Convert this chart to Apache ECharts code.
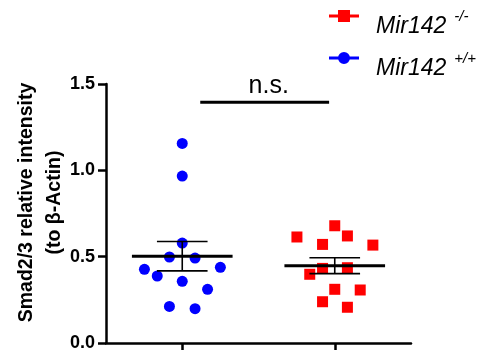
<!DOCTYPE html>
<html>
<head>
<meta charset="utf-8">
<script src="https://cdn.jsdelivr.net/npm/echarts@6/dist/echarts.min.js"></script>
<style>
  html, body { margin: 0; padding: 0; background: #fff; }
  #chart { width: 498px; height: 353px; }
</style>
</head>
<body>
<div id="chart"></div>
<script>
// values
const groupNames = ['Mir142 +/+', 'Mir142 -/-'];
const groupPos = [1, 2];
const wtValues = [1.156, 0.967, 0.579, 0.498, 0.492, 0.438, 0.427, 0.388, 0.357, 0.311, 0.212, 0.199];
const wtJitter = [0, 0, 0, -0.084, 0.084, 0.25, -0.248, -0.164, 0, 0.166, -0.084, 0.084];
const koValues = [0.679, 0.614, 0.620, 0.571, 0.567, 0.432, 0.436, 0.398, 0.311, 0.307, 0.239, 0.207];
const koJitter = [0, -0.248, 0.083, -0.08, 0.25, -0.08, 0.083, -0.164, 0, 0.167, -0.08, 0.083];
const groupMeans = [0.503, 0.448];
const groupSems = [0.085, 0.046];
const yTicks = [0, 0.5, 1.0, 1.5];
const nsBracket = [1.118, 1.963, 1.394];   // x from, x to, y

const FONT = '"Liberation Sans", Arial, Helvetica, sans-serif';

function points(pos, jitter, values) {
    return values.map((v, i) => [pos + jitter[i], v]);
}

// mean line + SEM whisker for each group
function renderMean(params, api) {
    const x = api.value(0), m = api.value(1), s = api.value(2);
    const l = api.coord([x - 0.33, m]);
    const r = api.coord([x + 0.33, m]);
    const top = api.coord([x, m + s]);
    const bot = api.coord([x, m - s]);
    const capL = api.coord([x - 0.166, 0])[0];
    const capR = api.coord([x + 0.166, 0])[0];
    const thin = { stroke: '#000', lineWidth: 1.6 };
    return {
        type: 'group',
        children: [
            { type: 'line', shape: { x1: top[0], y1: top[1], x2: bot[0], y2: bot[1] }, style: thin },
            { type: 'line', shape: { x1: capL, y1: top[1], x2: capR, y2: top[1] }, style: thin },
            { type: 'line', shape: { x1: capL, y1: bot[1], x2: capR, y2: bot[1] }, style: thin },
            { type: 'line', shape: { x1: l[0], y1: l[1], x2: r[0], y2: r[1] }, style: { stroke: '#000', lineWidth: 3 } }
        ]
    };
}

function renderBracket(params, api) {
    const a = api.coord([api.value(0), api.value(2)]);
    const b = api.coord([api.value(1), api.value(2)]);
    return {
        type: 'group',
        children: [
            { type: 'line', shape: { x1: a[0], y1: a[1], x2: b[0], y2: b[1] }, style: { stroke: '#000', lineWidth: 3 } },
            {
                type: 'text',
                style: {
                    text: 'n.s.', x: (a[0] + b[0]) / 2 + 4, y: a[1] - 4,
                    align: 'center', verticalAlign: 'bottom',
                    font: '25px ' + FONT, fill: '#000'
                }
            }
        ]
    };
}

const chart = echarts.init(document.getElementById('chart'), null, { renderer: 'canvas' });

const option = {
    animation: false,
    backgroundColor: '#fff',
    grid: { left: 106, right: 87, top: 84, bottom: 10, containLabel: false, outerBoundsMode: 'none' },
    legend: {
        data: [
            { name: groupNames[1], icon: 'path://M0,4.5L9,4.5L9,7.5L0,7.5ZM21,4.5L30,4.5L30,7.5L21,7.5ZM9,0L21,0L21,12L9,12Z' },
            { name: groupNames[0], icon: 'path://M0,4.5L9.5,4.5L9.5,7.5L0,7.5ZM20.5,4.5L30,4.5L30,7.5L20.5,7.5ZM9,6A6,6,0,1,1,21,6A6,6,0,1,1,9,6Z' }
        ],
        orient: 'vertical',
        left: 329,
        top: 4,
        padding: 0,
        itemGap: 3,
        itemWidth: 30,
        itemHeight: 12,
        selectedMode: false,
        formatter: name => '{i|Mir142}{s|' + name.split(' ')[1] + '}',
        textStyle: {
            color: '#000',
            rich: {
                i: { fontFamily: FONT, fontStyle: 'italic', fontSize: 23, lineHeight: 24,
                     padding: [11, 0, 5, 12], verticalAlign: 'top', color: '#000' },
                s: { fontFamily: FONT, fontStyle: 'italic', fontSize: 15, lineHeight: 16,
                     padding: [5, 0, 0, 8], verticalAlign: 'top', color: '#000' }
            }
        }
    },
    xAxis: {
        type: 'value',
        min: 0.5,
        max: 2.5,
        axisLine: { lineStyle: { color: '#000', width: 2.5 } },
        axisTick: { show: true, customValues: groupPos, length: 7, lineStyle: { color: '#000', width: 2.5 } },
        axisLabel: { show: false },
        splitLine: { show: false }
    },
    yAxis: {
        type: 'value',
        min: 0,
        max: 1.5,
        interval: 0.5,
        name: 'Smad2/3 relative intensity\n(to β-Actin)',
        nameLocation: 'middle',
        nameGap: 37,
        nameMoveOverlap: false,
        nameTextStyle: {
            fontFamily: FONT, fontWeight: 'bold', fontSize: 19.5, lineHeight: 28,
            color: '#000', padding: [0, 0, 0, 22]
        },
        axisLine: { show: true, lineStyle: { color: '#000', width: 2.5 } },
        axisTick: { show: true, length: 8, lineStyle: { color: '#000', width: 2.5 } },
        axisLabel: {
            fontFamily: FONT, fontWeight: 'bold', fontSize: 18, color: '#000', margin: 11,
            customValues: yTicks,
            formatter: v => v.toFixed(1)
        },
        splitLine: { show: false }
    },
    series: [
        {
            name: groupNames[0],
            type: 'scatter',
            symbol: 'circle',
            symbolSize: 11,
            itemStyle: { color: '#0000ff', opacity: 1 },
            data: points(groupPos[0], wtJitter, wtValues),
            z: 2
        },
        {
            name: groupNames[1],
            type: 'scatter',
            symbol: 'rect',
            symbolSize: 11,
            itemStyle: { color: '#ff0000', opacity: 1 },
            data: points(groupPos[1], koJitter, koValues),
            z: 2
        },
        {
            type: 'custom',
            renderItem: renderMean,
            data: groupPos.map((p, i) => [p, groupMeans[i], groupSems[i]]),
            z: 5,
            silent: true
        },
        {
            type: 'custom',
            renderItem: renderBracket,
            data: [nsBracket],
            z: 5,
            silent: true,
            clip: false
        }
    ]
};

chart.setOption(option);
</script>
</body>
</html>
